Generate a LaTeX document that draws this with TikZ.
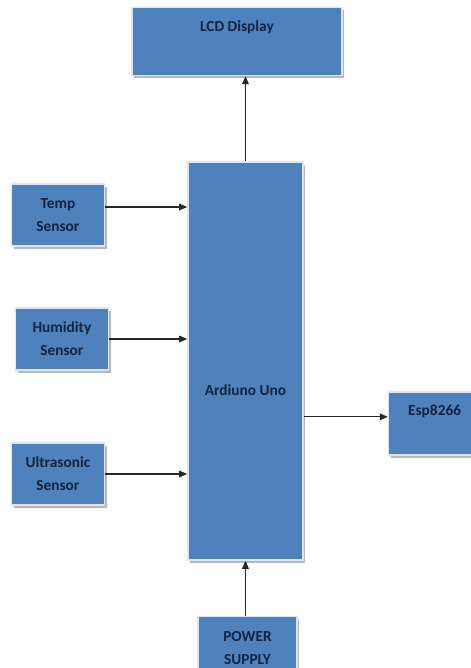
\documentclass[tikz,border=0pt]{standalone}
\usepackage{fontspec}
\setmainfont{Carlito}
\usepackage{tikz}
\usetikzlibrary{shapes, arrows.meta, positioning, calc, shadows}

\definecolor{boxblue}{HTML}{4F81BD}
\definecolor{boxedge}{HTML}{DCE6F2}
\definecolor{boxtext}{HTML}{15233F}
\definecolor{wire}{HTML}{262626}

\begin{document}
\begin{tikzpicture}[
			node distance = 1.8cm,
			>={Triangle[length=6pt,width=5pt]},
			block/.style = {rectangle, fill=boxblue, draw=boxedge, line width=1.2pt, align=center,
				text=boxtext, font=\fontsize{11.5}{17.5}\selectfont\bfseries, inner sep=2pt,
				drop shadow={shadow xshift=1.6pt, shadow yshift=-2pt, fill=black!40, opacity=0.7}},
			sensor/.style = {block, minimum width=69.75pt, minimum height=46.5pt},
			link/.style   = {->, draw=wire, line width=0.8pt}
			]
			
			\useasboundingbox (0,0) rectangle (353.25pt,-501pt);
			\clip (0,0) rectangle (353.25pt,-501pt);
			
			\node [block, minimum width=86.25pt, minimum height=298.5pt,
			text height=51pt, text depth=0pt] (uno) at (184.125pt,-270.75pt) {Ardiuno Uno};
			\node [block, above=63.75pt of uno, xshift=-6.4pt, minimum width=157.5pt, minimum height=51pt,
			text height=9pt, text depth=24pt] (lcd) {LCD Display};
			
			% sensors on the left
			\node [sensor, below left=16.5pt and 61.5pt of uno.north west]  (temp)  {Temp\\Sensor};
			\node [sensor, below left=109.5pt and 58.5pt of uno.north west] (humid) {Humidity\\Sensor};
			\node [sensor, below left=210.75pt and 61.5pt of uno.north west] (ultra) {Ultrasonic\\Sensor};
			
			% wifi module and supply
			\node [block, below right=172.5pt and 63pt of uno.north east, minimum width=69pt, minimum height=47.25pt,
			text height=9pt, text depth=21.75pt] (esp) {Esp8266};
			\node [block, below=41.25pt of uno, xshift=1.5pt, minimum width=74.25pt, minimum height=47.25pt] (power) {POWER\\SUPPLY};
			
			%% ── Inputs ────────────────────────────────────────────────────
			\draw [link] ([yshift=6pt]temp.east) -- ([yshift=6pt]temp.east -| uno.west);
			\draw [link] (humid.east) -- (humid.east -| uno.west);
			\draw [link] (ultra.east) -- (ultra.east -| uno.west);
			\draw [link] (power.north -| uno.south) -- (uno.south);
			
			%% ── Outputs ───────────────────────────────────────────────────
			\draw [link] (uno.north) -- (uno.north |- lcd.south);
			\draw [link] ([yshift=5pt]esp.west -| uno.east) -- ([yshift=5pt]esp.west);
			
		\end{tikzpicture}
\end{document}
